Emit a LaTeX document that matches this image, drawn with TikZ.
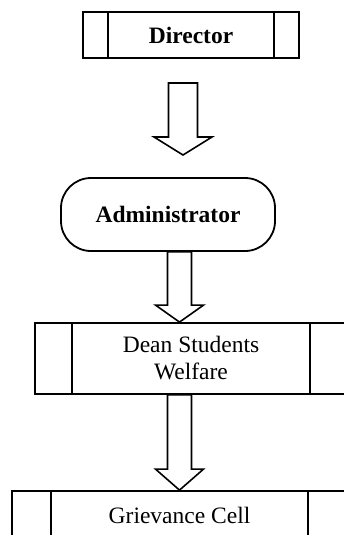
\documentclass[tikz,border=0pt]{standalone}
\usepackage{fontspec}
\setmainfont{Liberation Serif}
\usetikzlibrary{calc}

% hollow block arrow: from, tip, shaft half width, head half width, head length
\newcommand{\blockarrow}[5]{%
  \draw[bigarrow] ($(#1)+(-#3,0)$) -- ($(#2)+(-#3,-#5)$) -- ($(#2)+(-#4,-#5)$) -- (#2)
    -- ($(#2)+(#4,-#5)$) -- ($(#2)+(#3,-#5)$) -- ($(#1)+(#3,0)$) -- cycle;}

\begin{document}
\begin{tikzpicture}[x=1pt, y=-1pt,
    box/.style={draw, line width=1.8pt, align=center, inner sep=0pt, font=\fontsize{23.5}{27}\selectfont},
    bold/.style={box, font=\fontsize{23.5}{27}\selectfont\bfseries},
    bigarrow/.style={draw, line width=1.6pt, line join=miter}
]

% Page frame
\path[use as bounding box, clip] (0,0) rectangle (344,535);

% Director
\node[bold, minimum width=216pt, minimum height=46pt] (director) at (191,35) {Director};

% Administrator
\node[bold, rounded corners=30pt, minimum width=214pt, minimum height=73pt] (admin) at (168,214.5) {Administrator};

% Dean Students Welfare
\node[box, minimum width=312pt, minimum height=71pt] (dean) at (191,358.5) {Dean Students\\Welfare};

% Grievance Cell
\node[box, minimum width=335pt, minimum height=48pt] (grievance) at (179.5,515) {Grievance Cell};

% Side bars of the process boxes
\foreach \n/\d in {director/26, dean/38, grievance/40} {
    \draw[line width=1.8pt] ([xshift=\d pt]\n.north west) -- ([xshift=\d pt]\n.south west);
    \draw[line width=1.8pt] ([xshift=-\d pt]\n.north east) -- ([xshift=-\d pt]\n.south east);
}

% Arrows
\coordinate (top1) at (183,83);
\coordinate (tip1) at (183,155);
\coordinate (top2) at (grievance.north |- admin.south);
\coordinate (tip2) at (grievance.north |- dean.north);
\coordinate (top3) at (grievance.north |- dean.south);
\blockarrow{top1}{tip1}{14.5}{29}{18}
\blockarrow{top2}{tip2}{12}{24}{17}
\blockarrow{top3}{grievance.north}{12}{24}{21}

\end{tikzpicture}
\end{document}
